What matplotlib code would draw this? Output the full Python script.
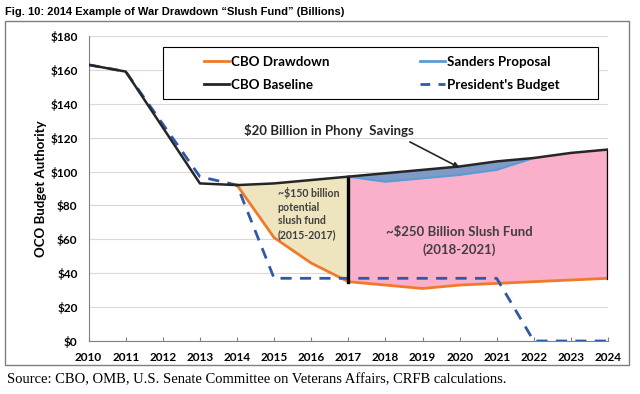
import matplotlib
matplotlib.use("Agg")
import matplotlib.pyplot as plt
from matplotlib.lines import Line2D
from matplotlib.patches import Rectangle

years = [2010, 2011, 2012, 2013, 2014, 2015, 2016, 2017, 2018, 2019, 2020, 2021, 2022, 2023, 2024]
cbo_baseline = [163, 159, 126, 93, 92, 93, 95, 97, 99, 101, 103, 106, 108, 111, 113]
presidents_budget = [163, 159, 128, 97, 92, 37, 37, 37, 37, 37, 37, 37, 0, 0, 0]
drawdown_years = [2014, 2015, 2016, 2017, 2018, 2019, 2020, 2021, 2022, 2023, 2024]
cbo_drawdown = [92, 61, 46, 35, 33, 31, 33, 34, 35, 36, 37]
sanders_years = [2017, 2018, 2019, 2020, 2021, 2022]
sanders = [97, 94, 96, 98, 101, 108]
ytick_vals = [0, 20, 40, 60, 80, 100, 120, 140, 160, 180]
ytick_labels = ["$0", "$20", "$40", "$60", "$80", "$100", "$120", "$140", "$160", "$180"]

FONT = "Lato"
W, H = 640, 394

fig = plt.figure(figsize=(6.4, 3.94), dpi=100)
ax = fig.add_axes([88.6 / W, 1 - 341 / H, (608 - 88.6) / W, (341 - 36) / H])

base = dict(zip(years, cbo_baseline))
dd = dict(zip(drawdown_years, cbo_drawdown))

tan_years = [y for y in drawdown_years if y <= 2017]
ax.fill_between(tan_years, [dd[y] for y in tan_years], [base[y] for y in tan_years],
                color="#EEE5BF", zorder=1, linewidth=0)
pink_years = [y for y in drawdown_years if y >= 2017]
ax.fill_between(pink_years, [dd[y] for y in pink_years], [base[y] for y in pink_years],
                color="#FAB0CB", zorder=1, linewidth=0)
ax.fill_between(sanders_years, sanders, [base[y] for y in sanders_years],
                color="#7E9AC6", zorder=2, linewidth=0)

ax.plot([2017, 2017], [dd[2017], base[2017]], color="black", lw=2.4, zorder=5)
ax.plot([2024, 2024], [dd[2024], base[2024]], color="black", lw=2.4, zorder=5)

ax.plot(years, presidents_budget, color="#2E58A8", lw=2, ls=(0, (4, 3)), zorder=4)
ax.plot(drawdown_years, cbo_drawdown, color="#F07A2B", lw=2, zorder=3)
ax.plot(sanders_years, sanders, color="#5B9BD5", lw=1.5, zorder=3)
ax.plot(years, cbo_baseline, color="#262626", lw=1.8, zorder=6)

ax.set_xlim(2010, 2024)
ax.set_ylim(0, 180)
ax.set_xticks(years)
ax.set_xticklabels([str(y) for y in years], fontfamily=FONT, fontweight="bold", fontsize=8.5)
ax.set_yticks(ytick_vals)
ax.set_yticklabels(ytick_labels, fontfamily=FONT, fontweight="bold", fontsize=8.5)
ax.tick_params(axis="y", length=0, pad=8)
ax.tick_params(axis="x", direction="in", length=3, color="#808080", pad=8)
ax.grid(axis="y", color="#D9D9D9", lw=0.8)
ax.set_axisbelow(True)
for s in ["top", "right"]:
    ax.spines[s].set_visible(False)
for s in ["left", "bottom"]:
    ax.spines[s].set_color("#808080")
ax.set_ylabel("OCO Budget Authority", fontfamily=FONT, fontweight="bold", fontsize=9.5, labelpad=2)

# legend: frame + two frameless columns
ax.add_patch(Rectangle((163 / W, 1 - 99 / H), (598 - 163) / W, (99 - 47) / H,
                       transform=fig.transFigure, facecolor="white", edgecolor="black",
                       lw=0.8, zorder=9, clip_on=False))
leg_kw = dict(loc="center left", frameon=False, prop={"family": FONT, "weight": "bold", "size": 9.6},
              handlelength=1.9, handletextpad=0.15, borderpad=0, borderaxespad=0,
              labelspacing=0.8)
leg1 = ax.legend([Line2D([], [], color="#F07A2B", lw=2), Line2D([], [], color="#262626", lw=2)],
                 ["CBO Drawdown", "CBO Baseline"],
                 bbox_to_anchor=(204 / W, 1 - 73.5 / H), bbox_transform=fig.transFigure, **leg_kw)
leg1.set_zorder(10)
ax.add_artist(leg1)
leg2 = ax.legend([Line2D([], [], color="#5B9BD5", lw=2),
                  Line2D([], [], color="#2E58A8", lw=2, ls=(0, (3.5, 3)))],
                 ["Sanders Proposal", "President's Budget"],
                 bbox_to_anchor=(420 / W, 1 - 73.5 / H), bbox_transform=fig.transFigure, **leg_kw)
leg2.set_zorder(10)

ax.text(2014.19, 124.5, "$20 Billion in Phony  Savings", fontfamily=FONT, fontweight="bold",
        fontsize=9.5, color="#262626", ha="left", va="center", zorder=11)
ax.annotate("", xy=(2020.0, 102.3), xytext=(2018.66, 117.5),
            arrowprops=dict(arrowstyle="-|>", color="#262626", lw=1.2,
                            shrinkA=0, shrinkB=0, mutation_scale=8), zorder=11)

ax.text(2015.1, 75.3, "~$150 billion\npotential\nslush fund\n(2015-2017)",
        fontfamily=FONT, fontweight="bold", fontsize=7.6, color="#3F3F3F",
        ha="left", va="center", linespacing=1.3, zorder=7)
ax.text(2020.0, 59, "~$250 Billion Slush Fund\n(2018-2021)",
        fontfamily=FONT, fontweight="bold", fontsize=9.5, color="#3F3F3F",
        ha="center", va="center", linespacing=1.45, zorder=7)

fig.text(0.008, 1 - 12 / H, "Fig. 10: 2014 Example of War Drawdown \u201cSlush Fund\u201d (Billions)",
         fontfamily="Liberation Sans", fontweight="bold", fontsize=8, ha="left", va="center")
fig.text(0.011, 1 - 380 / H, "Source: CBO, OMB, U.S. Senate Committee on Veterans Affairs, CRFB calculations.",
         fontfamily="Liberation Serif", fontsize=10.5, ha="left", va="center")

fig.add_artist(Rectangle((5 / W, 1 - 365 / H), 624 / W, 344 / H,
                         transform=fig.transFigure, fill=False, edgecolor="#7F7F7F", lw=1))

fig.savefig("out.png", dpi=100)
